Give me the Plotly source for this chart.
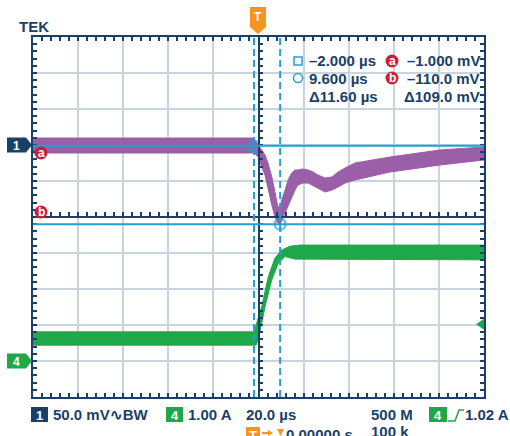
import plotly.graph_objects as go

# ---- acquisition settings -------------------------------------------------
time_per_div_us = 20.0
n_div_x = 10
n_div_y = 10
ch1_mv_per_div = 50.0
ch4_a_per_div = 1.0
ch1_offset_div = 2.0
ch4_offset_div = -4.0
trigger_level_a = 1.02
sample_rate = "500 M"
record_length = "100 k"
trigger_delay = "0.00000 s"

# ---- cursors ---------------------------------------------------------------
cursor_t_us = [-2.0, 9.6]
cursor_v_mv = [-1.0, -110.0]

# ---- channel 1: output voltage (mV), envelope of the acquired band ----------
ch1_t_us = [-100, -60, -20, -2.5, -1.55, -0.1, 1.4, 2.9, 4.2, 5.9, 7.3, 8.6,
            9.6, 10.3, 11.8, 13.1, 14.7, 16.2, 17.5, 19.7, 22.0, 24.2, 26.4,
            29.5, 32.6, 35.3, 38.4, 42.8, 58.3, 80.5, 100]
ch1_hi_mv = [9.7, 9.7, 9.7, 9.7, 6.9, 0.0, -6.9, -13.9, -25.0, -44.4, -65.3,
             -86.1, -85.0, -76.4, -62.5, -48.6, -38.9, -34.7, -34.7, -33.3,
             -34.7, -37.5, -41.7, -45.8, -44.4, -37.5, -31.9, -25.0, -16.7,
             -6.9, -2.8]
ch1_lo_mv = [-11.1, -11.1, -11.1, -11.1, -12.0, -16.7, -30.6, -41.7, -59.7,
             -83.3, -100.0, -108.3, -110.0, -104.2, -94.4, -86.1, -73.6,
             -62.5, -55.6, -52.8, -52.8, -55.6, -59.7, -65.3, -62.5, -58.3,
             -52.8, -48.6, -37.5, -27.8, -20.8]

# ---- channel 4: load current (A), envelope of the acquired band --------------
ch4_hi_t_us = [-100, -2.0, 1.4, 4.35, 7.3, 10.3, 14.0, 18.4, 100]
ch4_hi_a = [0.81, 0.81, 1.51, 2.34, 2.86, 3.08, 3.19, 3.22, 3.22]
ch4_lo_t_us = [-100, -1.1, -0.1, 2.9, 5.85, 8.8, 11.75, 16.2, 100]
ch4_lo_a = [0.44, 0.44, 0.58, 1.51, 2.25, 2.72, 2.90, 2.83, 2.81]

# ---- colours / fonts -------------------------------------------------------
NAVY = "#1a3f68"
GRID = "#c9d4df"
PURPLE = "#9a5fa8"
GREEN = "#1fa84a"
CYAN = "#1fa1d4"
RED = "#cc1f3c"
ORANGE = "#f7941d"
FONT = "Liberation Sans, Arial, sans-serif"

# ---- page geometry ---------------------------------------------------------
W, H = 510, 436
ML, MR, MT, MB = 33, 26, 37, 39
PW, PH = W - ML - MR, H - MT - MB


def px(x):
    return (x - ML) / PW


def py(y):
    return (H - MB - y) / PH


def ch1_div(values):
    return [ch1_offset_div + v / ch1_mv_per_div for v in values]


def ch4_div(values):
    return [ch4_offset_div + v / ch4_a_per_div for v in values]


half_t = n_div_x / 2 * time_per_div_us
half_y = n_div_y / 2

fig = go.Figure()

# channel 4 band
fig.add_trace(go.Scatter(
    x=ch4_hi_t_us + ch4_lo_t_us[::-1],
    y=ch4_div(ch4_hi_a + ch4_lo_a[::-1]),
    mode="lines", fill="toself", fillcolor=GREEN,
    line=dict(color=GREEN, width=1), hoverinfo="skip"))

# channel 1 band
fig.add_trace(go.Scatter(
    x=ch1_t_us + ch1_t_us[::-1],
    y=ch1_div(ch1_hi_mv + ch1_lo_mv[::-1]),
    mode="lines", fill="toself", fillcolor=PURPLE,
    line=dict(color=PURPLE, width=1), hoverinfo="skip"))

# centre cross axes live on an overlay pair
fig.add_trace(go.Scatter(x=[None], y=[None], xaxis="x2", yaxis="y2",
                         hoverinfo="skip"))

# cursor lines
for v in cursor_v_mv:
    yv = ch1_div([v])[0]
    fig.add_shape(type="line", xref="paper", x0=0, x1=1, yref="y", y0=yv, y1=yv,
                  line=dict(color=CYAN, width=2), layer="above")
for t in cursor_t_us:
    fig.add_shape(type="line", xref="x", x0=t, x1=t, yref="paper", y0=0, y1=1,
                  line=dict(color=CYAN, width=2, dash="7px,4px"), layer="above")

# cursor intersection markers
fig.add_trace(go.Scatter(
    x=cursor_t_us, y=ch1_div(cursor_v_mv), mode="markers",
    marker=dict(symbol=["square-open", "circle-open"], size=[9, 11],
                color=CYAN, line=dict(color=CYAN, width=2)),
    hoverinfo="skip"))

axis_common = dict(showticklabels=False, zeroline=False, ticks="inside",
                   ticklen=4, tickwidth=1.5, tickcolor=NAVY)

fig.update_layout(
    width=W, height=H,
    margin=dict(l=ML, r=MR, t=MT, b=MB),
    paper_bgcolor="white", plot_bgcolor="white",
    showlegend=False,
    xaxis=dict(range=[-half_t, half_t], dtick=time_per_div_us, tick0=0,
               showgrid=True, gridcolor=GRID, gridwidth=1.5,
               showline=True, linecolor=NAVY, linewidth=2, mirror="ticks",
               minor=dict(dtick=time_per_div_us / 5, ticks="inside", ticklen=4,
                          tickwidth=1.5, tickcolor=NAVY, showgrid=False),
               **axis_common),
    yaxis=dict(range=[-half_y, half_y], dtick=1, tick0=0,
               showgrid=True, gridcolor=GRID, gridwidth=1.5,
               showline=True, linecolor=NAVY, linewidth=2, mirror="ticks",
               minor=dict(dtick=0.2, ticks="inside", ticklen=4,
                          tickwidth=1.5, tickcolor=NAVY, showgrid=False),
               **axis_common),
    xaxis2=dict(overlaying="x", anchor="free", position=0.5,
                range=[-half_t, half_t], dtick=time_per_div_us, tick0=0,
                showgrid=False, showline=True, linecolor=NAVY, linewidth=1.5,
                minor=dict(dtick=time_per_div_us / 5, ticks="inside", ticklen=4,
                           tickwidth=1.5, tickcolor=NAVY),
                **axis_common),
    yaxis2=dict(overlaying="y", anchor="free", position=0.5, side="left",
                range=[-half_y, half_y], dtick=1, tick0=0,
                showgrid=False, showline=True, linecolor=NAVY, linewidth=1.5,
                minor=dict(dtick=0.2, ticks="inside", ticklen=4,
                           tickwidth=1.5, tickcolor=NAVY),
                **axis_common),
)


def poly(points, color):
    path = "M " + " L ".join(f"{px(x):.5f},{py(y):.5f}" for x, y in points) + " Z"
    fig.add_shape(type="path", path=path, xref="paper", yref="paper",
                  fillcolor=color, line=dict(width=0), layer="above")


def polyline(points, color, width=1.5):
    path = "M " + " L ".join(f"{px(x):.5f},{py(y):.5f}" for x, y in points)
    fig.add_shape(type="path", path=path, xref="paper", yref="paper",
                  line=dict(color=color, width=width), layer="above")


def box(x0, y0, x1, y1, color, text, size=13):
    fig.add_shape(type="rect", xref="paper", yref="paper",
                  x0=px(x0), x1=px(x1), y0=py(y1), y1=py(y0),
                  fillcolor=color, line=dict(width=0), layer="above")
    label((x0 + x1) / 2, (y0 + y1) / 2 + 0.5, text, color="white", size=size,
          xanchor="center")


def disc(cx, cy, r, color, text):
    fig.add_shape(type="circle", xref="paper", yref="paper",
                  x0=px(cx - r), x1=px(cx + r), y0=py(cy + r), y1=py(cy - r),
                  fillcolor=color, line=dict(width=0), layer="above")
    label(cx, cy - 0.5, text, color="white", size=12, xanchor="center")


def label(x, y, text, color=NAVY, size=15, xanchor="left"):
    fig.add_annotation(x=px(x), y=py(y), xref="paper", yref="paper",
                       text=f"<b>{text}</b>", showarrow=False,
                       xanchor=xanchor, yanchor="middle", borderpad=0,
                       font=dict(family=FONT, size=size, color=color))


def level_px(offset_div):
    return MT + PH * (1 - (offset_div + half_y) / n_div_y)


# title
label(18, 26, "TEK", size=15)

# trigger position tag
poly([(250, 7), (266, 7), (266, 27), (258, 34), (250, 27)], ORANGE)
label(258, 17.5, "T", color="white", size=12, xanchor="center")

# channel reference tags
for off, color, name in [(ch1_offset_div, NAVY, "1"), (ch4_offset_div, GREEN, "4")]:
    yc = level_px(off)
    poly([(7, yc - 7.5), (26, yc - 7.5), (32, yc), (26, yc + 7.5), (7, yc + 7.5)], color)
    label(16.5, yc + 0.5, name, color="white", size=12, xanchor="center")

# cursor level tags
disc(41, 153, 6.5, RED, "a")
disc(41, 212, 6.5, RED, "b")

# trigger level marker on the right edge
ytrig = level_px(ch4_offset_div + trigger_level_a / ch4_a_per_div)
poly([(476, ytrig), (484, ytrig - 5.5), (484, ytrig + 5.5)], GREEN)


def fmt(v, digits):
    s = f"{v:.{digits}f}"
    return s.replace("-", "\u2013")


# cursor readouts
fig.add_shape(type="rect", xref="paper", yref="paper",
              x0=px(294), x1=px(302), y0=py(65), y1=py(57),
              line=dict(color=CYAN, width=1.5), layer="above")
fig.add_shape(type="circle", xref="paper", yref="paper",
              x0=px(293.5), x1=px(302.5), y0=py(82.5), y1=py(73.5),
              line=dict(color=CYAN, width=1.5), layer="above")
dt = cursor_t_us[1] - cursor_t_us[0]
dv = cursor_v_mv[0] - cursor_v_mv[1]
label(308, 61, f"{fmt(cursor_t_us[0], 3)} µs")
label(308, 78, f"{fmt(cursor_t_us[1], 3)} µs")
label(308, 96, f"Δ{dt:.2f} µs")
disc(392, 61, 6.5, RED, "a")
disc(392, 78, 6.5, RED, "b")
label(481, 61, f"{fmt(cursor_v_mv[0], 3)} mV", xanchor="right")
label(481, 78, f"{fmt(cursor_v_mv[1], 1)} mV", xanchor="right")
label(481, 96, f"Δ{dv:.1f} mV", xanchor="right")

# bottom status bar
box(31, 407, 48, 422, NAVY, "1")
label(52, 414.5, f"{ch1_mv_per_div:.1f} mV∿BW")
box(166, 407, 183, 422, GREEN, "4")
label(187, 414.5, f"{ch4_a_per_div:.2f} A")
label(245, 414.5, f"{time_per_div_us:.1f} µs")
label(370, 414.5, sample_rate)
label(370, 431.5, record_length)
box(429, 407, 447, 422, GREEN, "4")
polyline([(448, 421), (455, 421), (459, 410), (464, 410)], GREEN)
label(464, 414.5, f"{trigger_level_a:.2f} A")

# horizontal position readout (runs off the bottom edge)
box(246, 427, 260, 442, ORANGE, "T")
polyline([(262, 433), (271, 433)], ORANGE, width=2)
poly([(268, 430), (273, 433), (268, 436)], ORANGE)
poly([(277, 429), (284, 429), (280.5, 436)], ORANGE)
label(285, 434.5, trigger_delay)

fig.write_html("out.html")
